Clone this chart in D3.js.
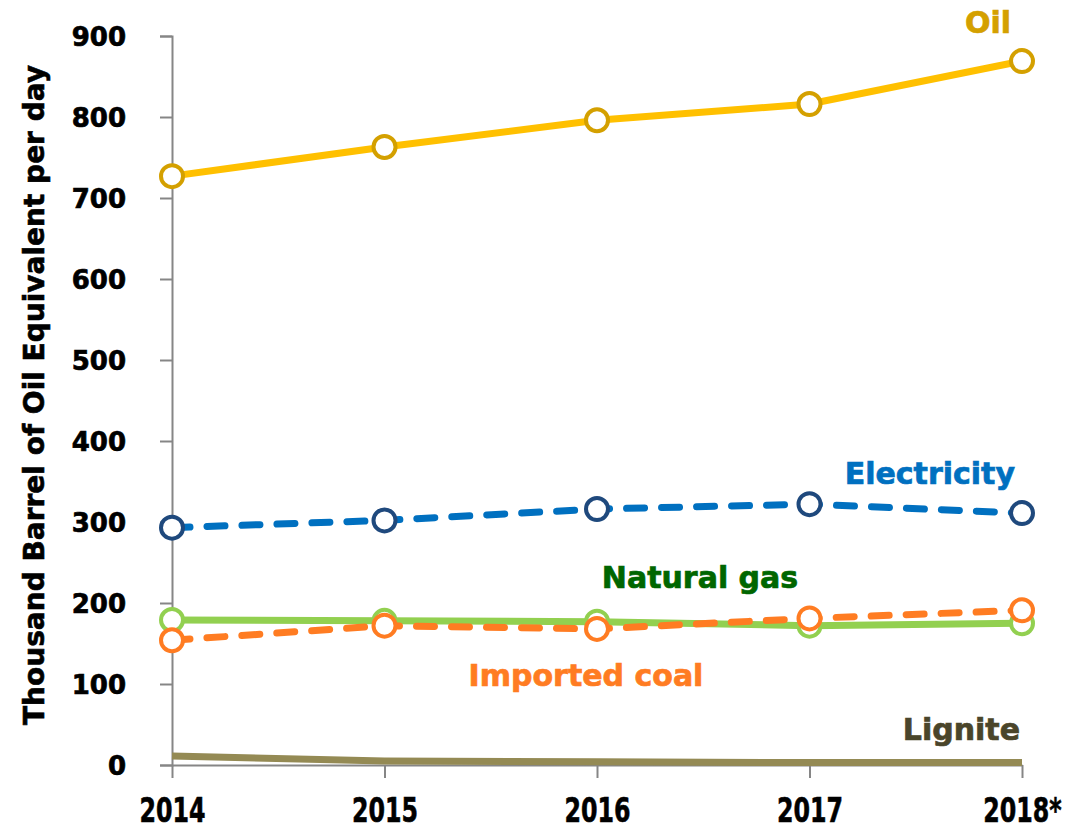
<!DOCTYPE html>
<html>
<head>
<meta charset="utf-8">
<script src="https://cdn.jsdelivr.net/npm/d3@7"></script>
<style>
  body { margin: 0; background: #fff; }
  text { font-family: "DejaVu Sans", Verdana, sans-serif; font-weight: bold; }
</style>
</head>
<body>
<script>
// categories and series (thousand barrel of oil equivalent per day)
var years = ["2014", "2015", "2016", "2017", "2018*"];
var oil = [727, 763, 796, 816, 869];
var electricity = [293, 302, 316, 322, 311];
var naturalGas = [179, 178, 177, 172, 175];
var importedCoal = [154, 172, 168, 181, 191];
var lignite = [11, 5, 4, 3, 3];
var yTicks = [0, 100, 200, 300, 400, 500, 600, 700, 800, 900];

var series = [
    {name: "Lignite", values: lignite, line: "#948A54", marker: null, dash: null, labelColor: "#4A452A", lx: 1020, ly: 740, anchor: "end"},
    {name: "Natural gas", values: naturalGas, line: "#92D050", marker: "#92D050", dash: null, labelColor: "#006600", lx: 700, ly: 588, anchor: "middle"},
    {name: "Imported coal", values: importedCoal, line: "#FF7C22", marker: "#FF7C22", dash: "18,17", labelColor: "#FF7C22", lx: 586, ly: 686, anchor: "middle"},
    {name: "Electricity", values: electricity, line: "#0070C0", marker: "#1F497D", dash: "18,17", labelColor: "#0070C0", lx: 1015, ly: 484, anchor: "end"},
    {name: "Oil", values: oil, line: "#FFC000", marker: "#D4A000", dash: null, labelColor: "#D4A000", lx: 988, ly: 33, anchor: "middle"}
];

var width = 1086, height = 832;
var svg = d3.select("body").append("svg")
    .attr("width", width)
    .attr("height", height);

var x = d3.scalePoint()
    .domain(years)
    .range([172, 1022]);
var y = d3.scaleLinear()
    .domain([0, 900])
    .range([765, 36]);

// y axis
var yAxis = svg.append("g")
    .attr("transform", "translate(172,0)")
    .call(d3.axisLeft(y).tickValues(yTicks).tickSize(12).tickPadding(34));
yAxis.select(".domain").attr("stroke", "#868686").attr("stroke-width", 2);
yAxis.selectAll(".tick line").attr("stroke", "#868686").attr("stroke-width", 2);
yAxis.selectAll(".tick text")
    .style("font-size", "26px")
    .attr("fill", "#000")
    .attr("stroke", "#000")
    .attr("stroke-width", 0.7)
    .attr("dy", "0.36em");

// x axis
var xAxis = svg.append("g")
    .attr("transform", "translate(0,765)")
    .call(d3.axisBottom(x).tickSize(13).tickSizeOuter(0));
xAxis.select(".domain").attr("stroke", "#868686").attr("stroke-width", 2);
xAxis.selectAll(".tick line").attr("stroke", "#868686").attr("stroke-width", 2);
xAxis.selectAll(".tick text")
    .style("font-size", "33px")
    .attr("fill", "#000")
    .attr("stroke", "#000")
    .attr("stroke-width", 0.6)
    .attr("y", 57)
    .attr("dy", 0)
    .attr("transform", "scale(0.72,1)");

// y axis title
svg.append("text")
    .attr("transform", "translate(44,395) rotate(-90)")
    .attr("text-anchor", "middle")
    .style("font-size", "28px")
    .attr("fill", "#000")
    .attr("stroke", "#000")
    .attr("stroke-width", 0.6)
    .text("Thousand Barrel of Oil Equivalent per day");

var line = d3.line()
    .x(function(d, i) { return x(years[i]); })
    .y(function(d) { return y(d); });

series.forEach(function(s) {
    svg.append("path")
        .datum(s.values)
        .attr("d", line)
        .attr("fill", "none")
        .attr("stroke", s.line)
        .attr("stroke-width", 7)
        .attr("stroke-linecap", s.dash ? "round" : "butt")
        .attr("stroke-dasharray", s.dash);

    if (s.marker) {
        svg.selectAll(null)
            .data(s.values)
            .enter().append("circle")
            .attr("cx", function(d, i) { return x(years[i]); })
            .attr("cy", function(d) { return y(d); })
            .attr("r", 11)
            .attr("fill", "#fff")
            .attr("stroke", s.marker)
            .attr("stroke-width", 4);
    }
});

series.forEach(function(s) {
    svg.append("text")
        .attr("x", s.lx)
        .attr("y", s.ly)
        .attr("text-anchor", s.anchor)
        .attr("fill", s.labelColor)
        .attr("stroke", s.labelColor)
        .attr("stroke-width", 0.7)
        .style("font-size", "30px")
        .text(s.name);
});
</script>
</body>
</html>
